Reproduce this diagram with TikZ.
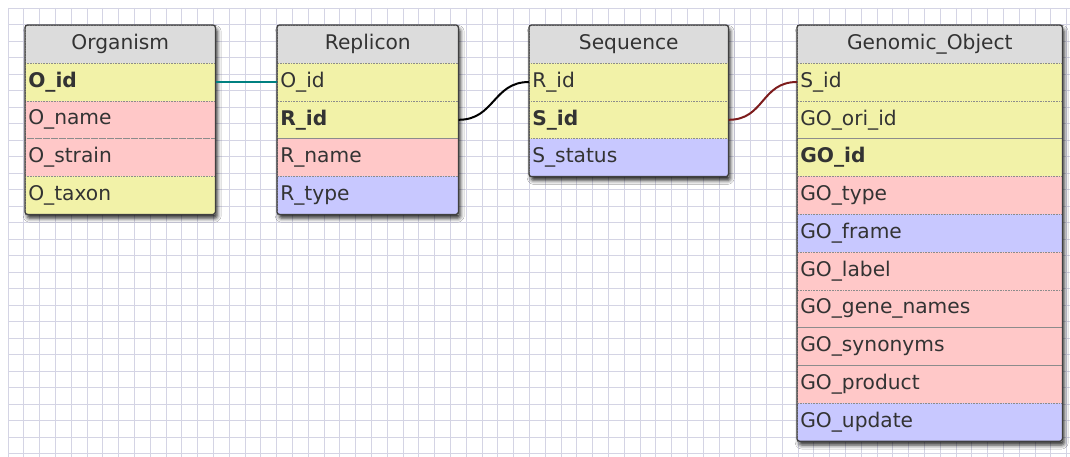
\documentclass[tikz,border=0pt]{standalone}
\usepackage{fontspec}
\setmainfont{DejaVu Sans}
\usetikzlibrary{shadows.blur}
\definecolor{amarillo}{RGB}{242,242,168}
\definecolor{rosa}{RGB}{255,200,200}
\definecolor{lila}{RGB}{200,200,255}
\definecolor{gris}{RGB}{220,220,220}
\definecolor{rejilla}{RGB}{212,212,228}
\definecolor{verdeazul}{RGB}{0,128,128}
\definecolor{granate}{RGB}{125,28,28}
\begin{document}
\begin{tikzpicture}[x=1pt, y=-1pt,
    fondo/.style={anchor=north west, inner sep=0pt, fill=white, rounded corners=2.5pt,
      blur shadow={shadow xshift=2pt, shadow yshift=-4pt, shadow blur radius=4pt, shadow opacity=85}},
    celda/.style={anchor=north west, inner xsep=3pt, inner ysep=0pt, minimum height=37.8pt,
      draw=black!45, densely dotted, line width=0.6pt, text=black!80,
      font=\fontsize{20.2}{24}\selectfont},
    cabecera/.style={celda, fill=gris, align=center},
    campo/.style={celda, fill=#1, align=left},
    marco/.style={draw=black!75, line width=1.3pt, rounded corners=2.5pt},
    enlace/.style={line width=2pt}]
  \useasboundingbox (0,0) rectangle (1070,457);
  \fill[white] (0,0) rectangle (1070,457);
  \foreach \gx in {0,...,67}
    \draw[rejilla, line width=0.7pt] ({8+15.8*\gx},8) -- ({8+15.8*\gx},457);
  \foreach \gy in {0,...,27}
    \draw[rejilla, line width=0.7pt] (8,{8+16.5*\gy}) -- (1070,{8+16.5*\gy});

  \node[fondo, minimum width=190pt, minimum height=189pt] (org) at (25,25) {};
  \node[cabecera, text width=184pt] (org-0) at (25,25) {Organism};
  \foreach \i/\txt/\col in {1/\textbf{O\_id}/amarillo, 2/O\_name/rosa,
      3/O\_strain/rosa, 4/O\_taxon/amarillo}
    \node[campo=\col, text width=184pt] (org-\i) at (25,{25+37.8*\i}) {\txt};
  \draw[marco] (org.north west) rectangle (org.south east);

  \node[fondo, minimum width=181pt, minimum height=189pt] (rep) at (277,25) {};
  \node[cabecera, text width=175pt] (rep-0) at (277,25) {Replicon};
  \foreach \i/\txt/\col in {1/O\_id/amarillo, 2/\textbf{R\_id}/amarillo,
      3/R\_name/rosa, 4/R\_type/lila}
    \node[campo=\col, text width=175pt] (rep-\i) at (277,{25+37.8*\i}) {\txt};
  \draw[marco] (rep.north west) rectangle (rep.south east);

  \node[fondo, minimum width=199pt, minimum height=151.2pt] (seq) at (529,25) {};
  \node[cabecera, text width=193pt] (seq-0) at (529,25) {Sequence};
  \foreach \i/\txt/\col in {1/R\_id/amarillo, 2/\textbf{S\_id}/amarillo, 3/S\_status/lila}
    \node[campo=\col, text width=193pt] (seq-\i) at (529,{25+37.8*\i}) {\txt};
  \draw[marco] (seq.north west) rectangle (seq.south east);

  \node[fondo, minimum width=265pt, minimum height=415.8pt] (go) at (797,25) {};
  \node[cabecera, text width=259pt] (go-0) at (797,25) {Genomic\_Object};
  \foreach \i/\txt/\col in {1/S\_id/amarillo, 2/GO\_ori\_id/amarillo,
      3/\textbf{GO\_id}/amarillo, 4/GO\_type/rosa, 5/GO\_frame/lila,
      6/GO\_label/rosa, 7/GO\_gene\_names/rosa, 8/GO\_synonyms/rosa,
      9/GO\_product/rosa, 10/GO\_update/lila}
    \node[campo=\col, text width=259pt] (go-\i) at (797,{25+37.8*\i}) {\txt};
  \draw[marco] (go.north west) rectangle (go.south east);

  \draw[enlace, verdeazul] (org-1.east) -- (rep-1.west);
  \draw[enlace, black] (rep-2.east) .. controls +(36,0) and +(-36,0) .. (seq-1.west);
  \draw[enlace, granate] (seq-2.east) .. controls +(36,0) and +(-36,0) .. (go-1.west);
\end{tikzpicture}
\end{document}
